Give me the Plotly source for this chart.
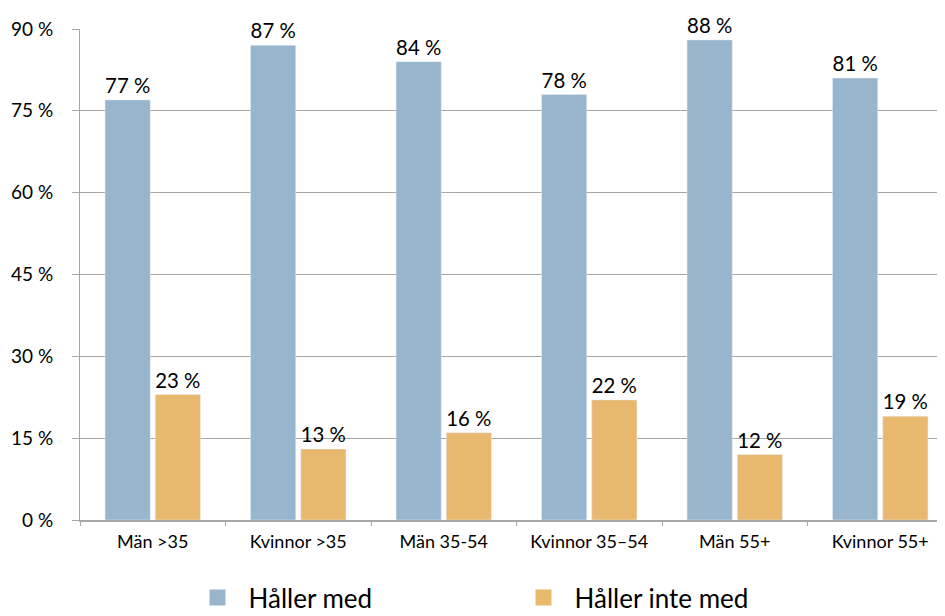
import plotly.graph_objects as go

categories = ["Män >35", "Kvinnor >35", "Män 35-54", "Kvinnor 35–54", "Män 55+", "Kvinnor 55+"]
haller_med = [77, 87, 84, 78, 88, 81]
haller_inte_med = [23, 13, 16, 22, 12, 19]
y_ticks = [0, 15, 30, 45, 60, 75, 90]
series_names = ["Håller med", "Håller inte med"]
series_colors = ["#97b5cc", "#e8b86e"]

FONT = "Lato, 'Open Sans', sans-serif"

fig = go.Figure()
for name, vals, color in zip(series_names, [haller_med, haller_inte_med], series_colors):
    fig.add_trace(go.Bar(
        x=categories, y=vals, name=name, showlegend=False,
        marker=dict(color=color),
        text=[f"{v} %" for v in vals], textposition="outside",
        textfont=dict(size=21, color="#000"), cliponaxis=False,
    ))

# legend entries with large square swatches
for name, color in zip(series_names, series_colors):
    fig.add_trace(go.Scatter(
        x=[None], y=[None], mode="markers", name=name,
        marker=dict(symbol="square", size=22, color=color),
    ))

fig.update_layout(
    width=945, height=616,
    margin=dict(l=72, r=0, t=21, b=104, autoexpand=False),
    paper_bgcolor="white", plot_bgcolor="white",
    font=dict(family=FONT, color="#000"),
    barmode="group", bargap=0.31, bargroupgap=0.1,
    showlegend=True,
    legend=dict(
        orientation="h", x=0.122, y=-0.11, xanchor="left", yanchor="top",
        font=dict(size=26), entrywidth=259, itemwidth=52, itemsizing="trace",
    ),
)
fig.update_yaxes(
    range=[0, 90], tickvals=y_ticks, ticktext=[f"{v} %" for v in y_ticks],
    showgrid=True, gridcolor="#a6a6a6", gridwidth=1,
    showline=True, linecolor="#a6a6a6", linewidth=1,
    ticks="outside", ticklen=7, tickcolor="#a6a6a6",
    tickfont=dict(size=19), ticklabelstandoff=15, zeroline=False,
)
fig.update_xaxes(
    showline=True, linecolor="#a6a6a6", linewidth=2,
    ticks="outside", tickson="boundaries", ticklen=4, tickcolor="#a6a6a6",
    tickfont=dict(size=18), ticklabelstandoff=4,
)

fig.write_html("out.html")
